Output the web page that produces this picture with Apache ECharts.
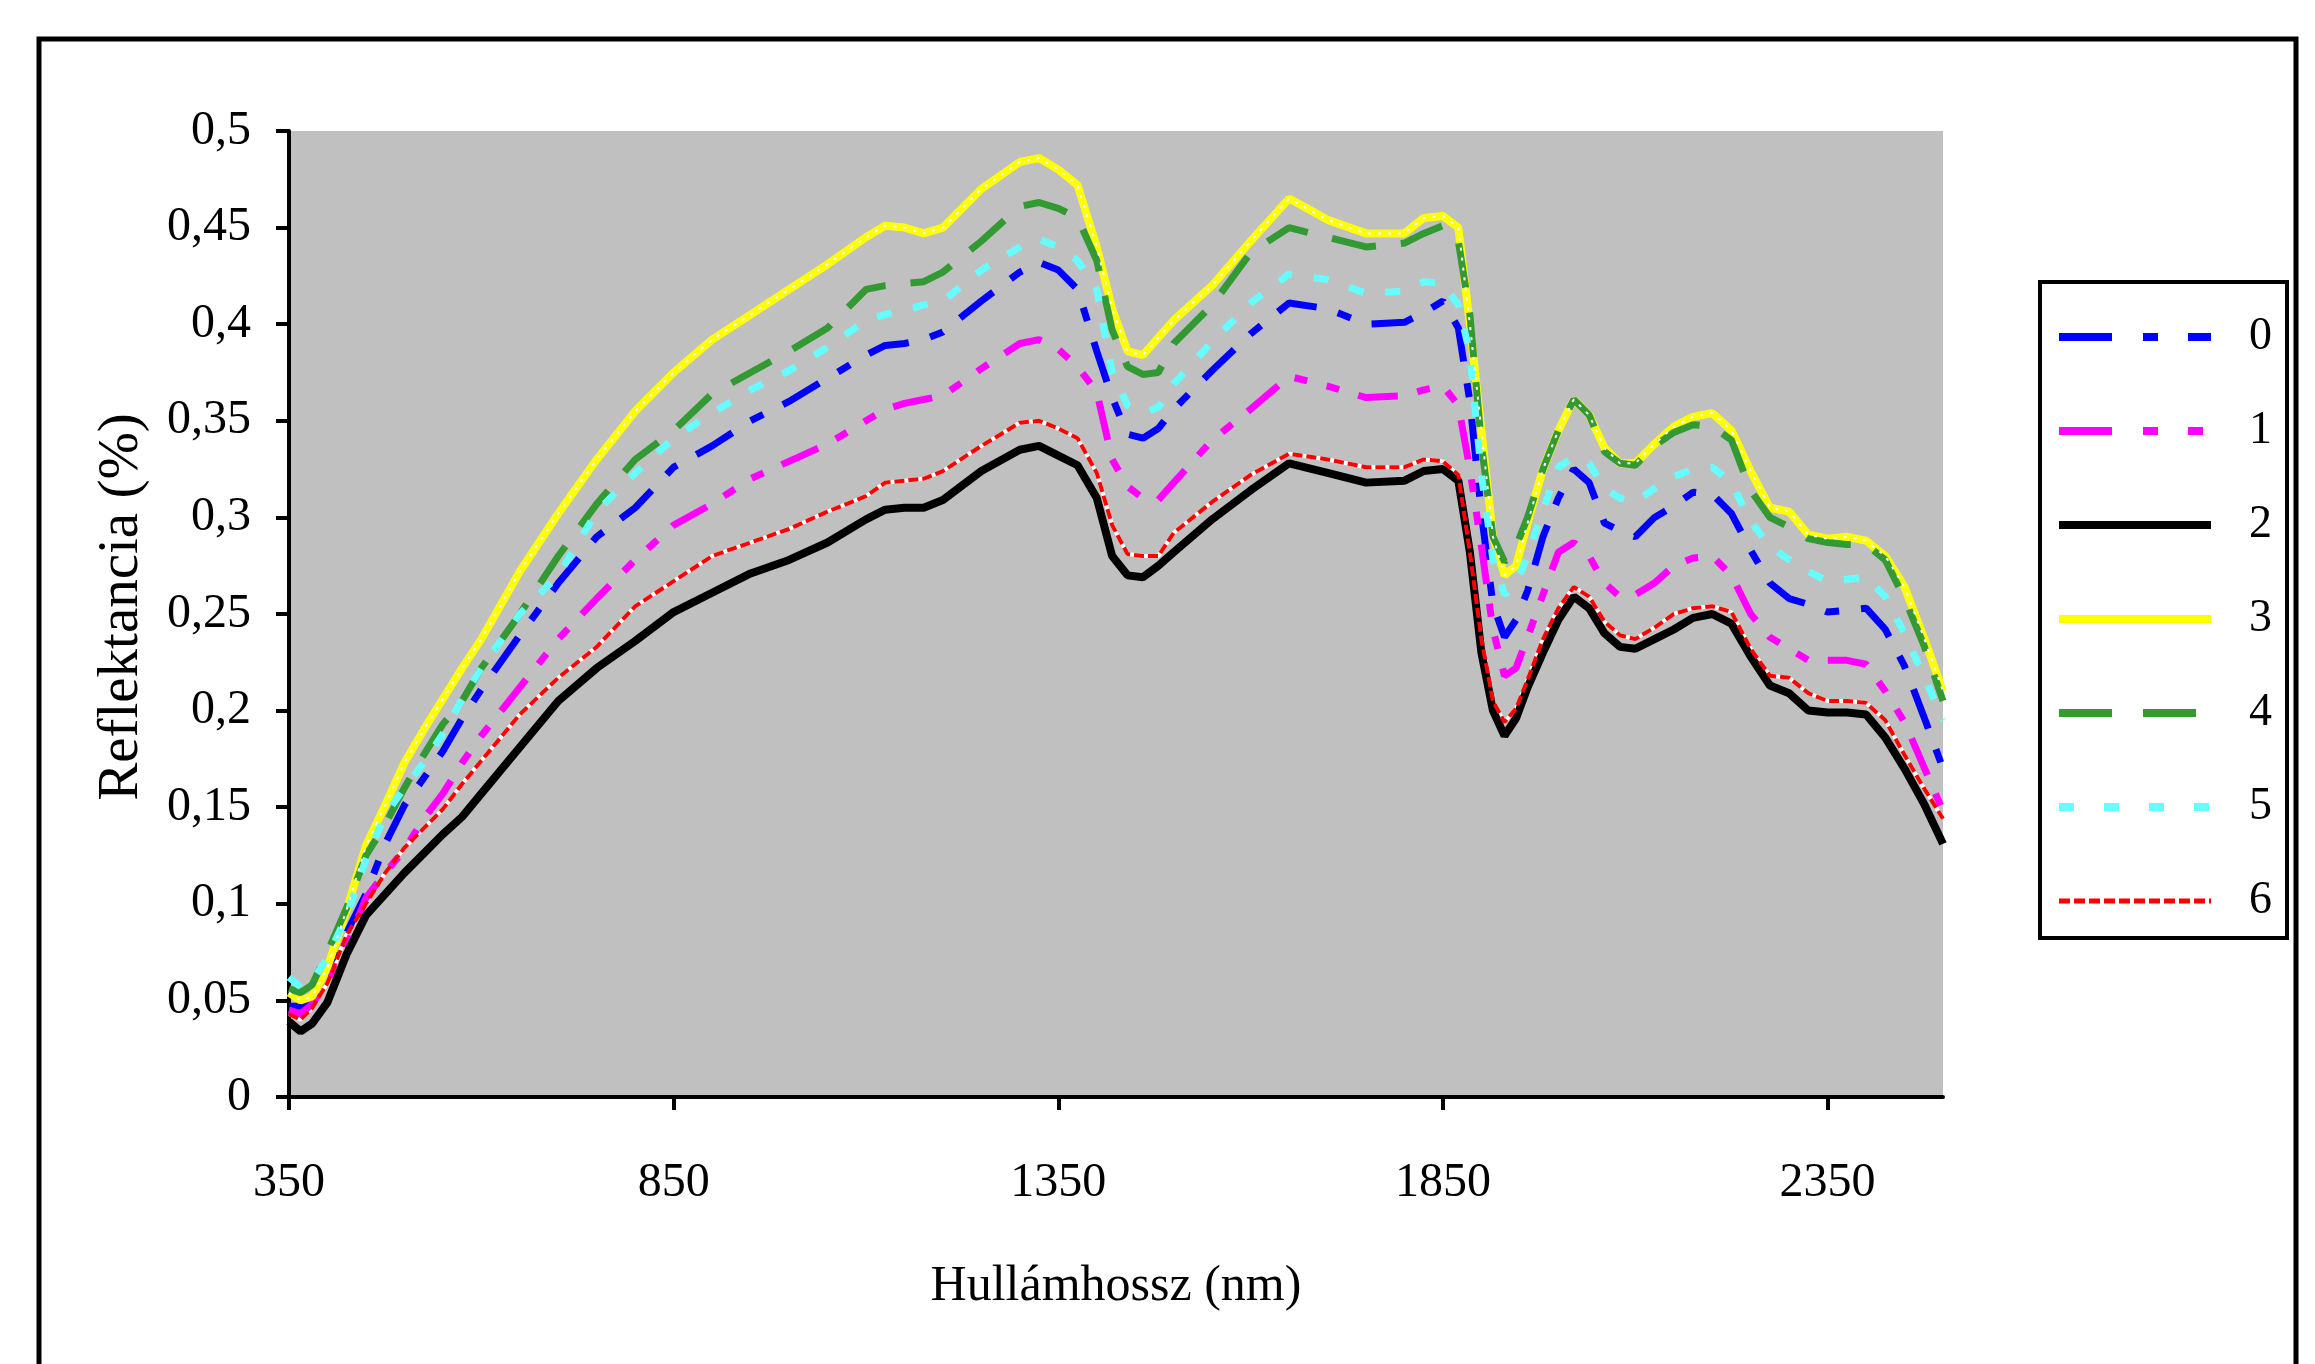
<!DOCTYPE html>
<html>
<head>
<meta charset="utf-8">
<script src="https://cdn.jsdelivr.net/npm/echarts@6/dist/echarts.min.js"></script>
<style>
html,body{margin:0;padding:0;background:#fff;}
#chart{width:2315px;height:1364px;}
</style>
</head>
<body>
<div id="chart"></div>
<script>
const wavelengths = [350,365,380,400,425,450,475,500,525,550,575,600,650,700,750,800,850,900,950,1000,1050,1100,1125,1150,1175,1200,1250,1300,1325,1350,1375,1400,1420,1440,1460,1480,1500,1550,1600,1650,1700,1750,1800,1825,1850,1870,1885,1900,1915,1930,1945,1960,1980,2000,2020,2040,2060,2080,2100,2125,2150,2175,2200,2225,2250,2275,2300,2325,2350,2375,2400,2425,2450,2475,2500];

const seriesNames = ['0','1','2','3','4','5','6'];

const s0 = [0.047,0.047,0.052,0.067,0.085,0.105,0.131,0.151,0.165,0.179,0.196,0.211,0.239,0.266,0.29,0.305,0.326,0.337,0.35,0.36,0.372,0.384,0.389,0.39,0.392,0.396,0.412,0.427,0.432,0.428,0.418,0.386,0.362,0.343,0.341,0.346,0.356,0.376,0.395,0.411,0.408,0.4,0.401,0.406,0.412,0.398,0.36,0.302,0.255,0.238,0.247,0.262,0.29,0.31,0.325,0.318,0.297,0.293,0.29,0.3,0.306,0.313,0.312,0.302,0.283,0.266,0.258,0.255,0.251,0.252,0.253,0.242,0.223,0.197,0.17];
const s1 = [0.045,0.043,0.048,0.06,0.078,0.103,0.116,0.128,0.144,0.157,0.173,0.187,0.212,0.237,0.258,0.278,0.296,0.307,0.32,0.329,0.338,0.35,0.356,0.359,0.361,0.363,0.377,0.39,0.392,0.387,0.378,0.365,0.33,0.316,0.31,0.309,0.318,0.34,0.356,0.373,0.368,0.362,0.363,0.366,0.368,0.358,0.325,0.285,0.242,0.218,0.222,0.238,0.26,0.282,0.287,0.28,0.266,0.259,0.26,0.266,0.275,0.279,0.28,0.27,0.25,0.238,0.232,0.226,0.226,0.226,0.224,0.21,0.194,0.171,0.148];
const s2 = [0.039,0.034,0.038,0.049,0.074,0.094,0.105,0.116,0.126,0.136,0.145,0.157,0.181,0.205,0.222,0.236,0.251,0.261,0.271,0.278,0.287,0.299,0.304,0.305,0.305,0.309,0.324,0.335,0.337,0.332,0.327,0.31,0.28,0.27,0.269,0.275,0.282,0.299,0.314,0.328,0.323,0.318,0.319,0.324,0.325,0.319,0.282,0.23,0.2,0.187,0.196,0.212,0.23,0.247,0.259,0.253,0.24,0.233,0.232,0.237,0.242,0.248,0.25,0.245,0.228,0.213,0.209,0.2,0.199,0.199,0.198,0.186,0.17,0.152,0.131];
const s3 = [0.054,0.05,0.052,0.067,0.097,0.13,0.151,0.173,0.19,0.206,0.222,0.237,0.272,0.302,0.33,0.355,0.375,0.392,0.405,0.418,0.431,0.445,0.451,0.45,0.447,0.45,0.47,0.484,0.486,0.48,0.472,0.44,0.408,0.386,0.384,0.393,0.402,0.42,0.443,0.465,0.454,0.447,0.447,0.455,0.456,0.45,0.4,0.345,0.29,0.27,0.275,0.297,0.325,0.345,0.361,0.353,0.336,0.328,0.328,0.338,0.347,0.352,0.354,0.345,0.324,0.305,0.303,0.291,0.289,0.29,0.288,0.28,0.264,0.238,0.21];
const s4 = [0.056,0.054,0.058,0.075,0.098,0.125,0.141,0.16,0.177,0.193,0.205,0.222,0.25,0.28,0.307,0.33,0.345,0.364,0.375,0.386,0.398,0.418,0.42,0.421,0.422,0.427,0.443,0.461,0.463,0.46,0.455,0.433,0.397,0.378,0.374,0.375,0.39,0.41,0.437,0.45,0.445,0.44,0.442,0.447,0.451,0.443,0.405,0.338,0.29,0.277,0.285,0.3,0.325,0.345,0.361,0.353,0.334,0.328,0.327,0.337,0.344,0.348,0.347,0.34,0.314,0.3,0.295,0.289,0.287,0.286,0.286,0.278,0.258,0.234,0.205];
const s5 = [0.062,0.057,0.06,0.072,0.094,0.123,0.146,0.16,0.173,0.188,0.206,0.222,0.25,0.27,0.303,0.323,0.341,0.354,0.366,0.376,0.388,0.402,0.405,0.407,0.41,0.412,0.428,0.44,0.444,0.44,0.433,0.418,0.375,0.358,0.354,0.357,0.369,0.391,0.411,0.426,0.423,0.416,0.417,0.422,0.421,0.41,0.385,0.322,0.278,0.26,0.266,0.28,0.304,0.326,0.331,0.328,0.315,0.31,0.308,0.315,0.321,0.325,0.326,0.318,0.298,0.285,0.278,0.272,0.267,0.268,0.269,0.259,0.24,0.218,0.195];
const s6 = [0.043,0.04,0.046,0.059,0.084,0.1,0.116,0.129,0.139,0.149,0.162,0.174,0.198,0.217,0.233,0.254,0.267,0.28,0.287,0.294,0.303,0.311,0.318,0.319,0.32,0.324,0.337,0.349,0.35,0.346,0.341,0.323,0.296,0.281,0.28,0.28,0.292,0.308,0.322,0.333,0.33,0.326,0.326,0.33,0.329,0.322,0.282,0.237,0.205,0.194,0.201,0.216,0.237,0.253,0.264,0.259,0.246,0.239,0.237,0.243,0.25,0.253,0.254,0.251,0.232,0.218,0.217,0.209,0.205,0.205,0.204,0.195,0.177,0.16,0.144];

const xTicks = [350, 850, 1350, 1850, 2350];
const yTickLabels = ['0','0,05','0,1','0,15','0,2','0,25','0,3','0,35','0,4','0,45','0,5'];

const xAxisName = 'Hullámhossz (nm)';
const yAxisName = 'Reflektancia (%)';

const FONT = '"Liberation Serif", "Times New Roman", serif';

const allValues = [s0, s1, s2, s3, s4, s5, s6];
const styles = [
  {color:'#0000FF', width:7, type:[42,22,14,22], legendType:[53,31,15,30], legendWidth:8},
  {color:'#FF00FF', width:7, type:[40,20,13,20,13,20], legendType:[53,31,15,30,15,30], legendWidth:8},
  {color:'#000000', width:8, type:'solid', legendType:'solid', legendWidth:8},
  {color:'#FFFF00', width:8, type:'solid', legendType:'solid', legendWidth:8},
  {color:'#339933', width:7, type:[45,25], legendType:[53,31], legendWidth:8},
  {color:'#66FFFF', width:7, type:[15,22], legendType:[15,30], legendWidth:8},
  {color:'#FF0000', width:4, type:[10,4], legendType:[11,4], legendWidth:5}
];

function pairs(vals) { return wavelengths.map((w, i) => [w, vals[i]]); }

const series = [];
// white underlay for the red dotted line (gaps appear white)
series.push({
  name: '_6bg', type: 'line', data: pairs(s6), symbol: 'none', showSymbol: false,
  lineStyle: {color: '#FFFFFF', width: 4, type: 'solid'}, silent: true, z: 2, animation: false
});
seriesNames.forEach((name, k) => {
  series.push({
    name: name,
    type: 'line',
    data: pairs(allValues[k]),
    showSymbol: false,
    symbol: 'none',
    lineStyle: {color: styles[k].color, width: styles[k].width, type: styles[k].type, cap: 'butt'},
    itemStyle: {color: styles[k].color},
    z: 3,
    animation: false
  });
});
// white speckles on the yellow line
series.push({
  name: '_3dots', type: 'line', data: pairs(s3), symbol: 'none', showSymbol: false,
  lineStyle: {color: '#FFFFFF', width: 2, type: [3, 7]}, silent: true, z: 4, animation: false
});

const chart = echarts.init(document.getElementById('chart'), null, {renderer: 'canvas'});
chart.setOption({
  backgroundColor: '#ffffff',
  animation: false,
  textStyle: {fontFamily: FONT},
  graphic: [{
    type: 'rect',
    shape: {x: 39, y: 39, width: 2257, height: 1400},
    style: {fill: null, stroke: '#000', lineWidth: 5},
    silent: true,
    z: -10
  }],
  grid: {
    left: 289, top: 131, width: 1654, height: 966,
    show: true, backgroundColor: '#C0C0C0', borderWidth: 0
  },
  legend: {
    orient: 'vertical',
    left: 2040, top: 282,
    data: seriesNames.map((n, k) => ({
      name: n,
      lineStyle: {width: styles[k].legendWidth, type: styles[k].legendType, color: styles[k].color, cap: 'butt'}
    })),
    itemWidth: 152, itemHeight: 20, itemGap: 44,
    padding: [30, 15, 12, 15],
    itemStyle: {opacity: 0},
    borderColor: '#000', borderWidth: 4, backgroundColor: '#fff',
    textStyle: {fontFamily: FONT, fontSize: 46, color: '#000', lineHeight: 50, padding: [0, 0, 0, 33]}
  },
  xAxis: {
    type: 'value',
    min: 350, max: 2500,
    name: xAxisName,
    nameLocation: 'middle',
    nameGap: 165,
    nameTextStyle: {fontFamily: FONT, fontSize: 50, color: '#000'},
    axisLine: {show: true, onZero: false, lineStyle: {color: '#000', width: 4}},
    axisTick: {show: true, length: 13, lineStyle: {color: '#000', width: 4}, customValues: xTicks},
    axisLabel: {customValues: xTicks, margin: 62, fontFamily: FONT, fontSize: 48, color: '#000',
      formatter: (v) => String(v)},
    splitLine: {show: false}
  },
  yAxis: {
    type: 'value',
    min: 0, max: 0.5, interval: 0.05,
    name: yAxisName,
    nameLocation: 'middle',
    nameGap: 138,
    nameTextStyle: {fontFamily: FONT, fontSize: 57, color: '#000', padding: [0, 0, 0, 14]},
    axisLine: {show: true, lineStyle: {color: '#000', width: 4}},
    axisTick: {show: true, length: 13, lineStyle: {color: '#000', width: 4}},
    axisLabel: {
      margin: 38, fontFamily: FONT, fontSize: 48, color: '#000',
      formatter: (v) => yTickLabels[Math.round(v / 0.05)]
    },
    splitLine: {show: false}
  },
  series: series
});
</script>
</body>
</html>
